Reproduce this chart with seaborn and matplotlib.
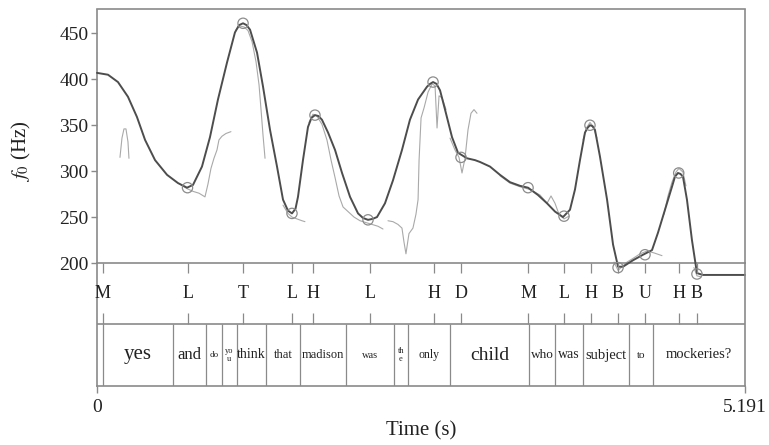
import matplotlib
matplotlib.use("Agg")
import matplotlib.pyplot as plt
import seaborn as sns

# Courbe stylisée (temps en s, f0 en Hz)
curve_t = [0.000, 0.088, 0.168, 0.248, 0.320, 0.385, 0.465, 0.561, 0.649, 0.721,
           0.769, 0.841, 0.905, 0.969, 1.041, 1.105, 1.138, 1.170, 1.198, 1.226,
           1.282, 1.330, 1.386, 1.442, 1.490, 1.530, 1.562, 1.590, 1.610, 1.650,
           1.690, 1.718, 1.746, 1.774, 1.802, 1.851, 1.907, 1.963, 2.027, 2.091,
           2.131, 2.171, 2.207, 2.243, 2.307, 2.371, 2.443, 2.507, 2.572, 2.644,
           2.668, 2.692, 2.720, 2.748, 2.788, 2.844, 2.892, 2.964, 3.028, 3.068,
           3.148, 3.228, 3.308, 3.389, 3.453, 3.533, 3.605, 3.669, 3.733, 3.789,
           3.829, 3.869, 3.909, 3.929, 3.949, 3.969, 3.989, 4.029, 4.086, 4.134,
           4.174, 4.214, 4.294, 4.374, 4.446, 4.494, 4.550, 4.606, 4.630, 4.654,
           4.674, 4.694, 4.726, 4.766, 4.806, 4.854, 5.191]
curve_hz = [407, 405, 397, 381, 359, 334, 312, 296, 287, 282,
            285, 305, 337, 378, 418, 451, 459, 461, 459, 454,
            429, 392, 345, 305, 269, 257, 254, 259, 272, 312,
            348, 358, 361, 360, 356, 342, 323, 298, 272, 254,
            249, 247, 248, 250, 265, 290, 323, 356, 378, 392,
            395, 397, 395, 388, 367, 337, 320, 314, 312, 310,
            305, 296, 288, 284, 282, 274, 265, 256, 250, 258,
            280, 312, 342, 347, 350, 349, 345, 316, 269, 220,
            196, 196, 203, 209, 214, 233, 258, 283, 294, 298,
            297, 294, 269, 225, 189, 187, 187]

# f0 mesurée (segments voisés)
raw_t = [
    [0.184, 0.200, 0.216, 0.232, 0.248, 0.256],
    [0.673, 0.721, 0.769, 0.817, 0.865, 0.889, 0.913, 0.937, 0.961, 0.977, 1.001, 1.033, 1.073],
    [1.114, 1.146, 1.178, 1.210, 1.242, 1.274, 1.298, 1.314, 1.330, 1.346],
    [1.490, 1.530, 1.562, 1.602, 1.642, 1.666],
    [1.698, 1.730, 1.762, 1.802, 1.842, 1.875, 1.907, 1.939, 1.971, 2.011, 2.059, 2.107, 2.155, 2.203, 2.251, 2.291],
    [2.331, 2.371, 2.411, 2.443, 2.459, 2.475, 2.499, 2.531, 2.555, 2.572, 2.580, 2.596, 2.620, 2.652, 2.684, 2.708, 2.724, 2.740, 2.764, 2.796],
    [2.828, 2.868, 2.900, 2.924, 2.948, 2.972, 2.996, 3.020, 3.044],
    [3.228, 3.308, 3.389, 3.469, 3.549, 3.605, 3.637, 3.669, 3.701, 3.741, 3.781],
    [3.893, 3.925, 3.949, 3.973, 4.005],
    [4.142, 4.174, 4.206, 4.246, 4.294, 4.350, 4.406, 4.462, 4.526],
    [4.542, 4.574, 4.606, 4.638, 4.662, 4.694, 4.718],
    [4.782, 4.806, 4.838],
]
raw_hz = [
    [315, 336, 346, 346, 332, 314],
    [285, 281, 278, 276, 272, 286, 303, 314, 323, 334, 338, 341, 343],
    [454, 458, 457, 453, 441, 419, 394, 367, 339, 314],
    [263, 254, 250, 248, 246, 245],
    [353, 362, 360, 351, 334, 312, 293, 273, 261, 256, 250, 246, 244, 242, 240, 237],
    [246, 245, 242, 238, 223, 210, 232, 238, 253, 269, 312, 358, 369, 386, 395, 393, 347, 382, 380, 367],
    [336, 323, 315, 298, 314, 345, 363, 367, 363],
    [295, 287, 283, 280, 274, 265, 273, 265, 253, 248, 251],
    [334, 348, 353, 349, 336],
    [201, 192, 196, 201, 205, 210, 213, 211, 208],
    [253, 273, 288, 299, 303, 299, 284],
    [195, 186, 185],
]

# Tier des tons
tones = ["M", "L", "T", "L", "H", "L", "H", "D", "M", "L", "H", "B", "U", "H", "B"]
tone_t = [0.048, 0.729, 1.170, 1.562, 1.731, 2.187, 2.700, 2.916, 3.453, 3.741,
          3.957, 4.173, 4.390, 4.662, 4.806]
target_t = [0.725, 1.170, 1.562, 1.746, 2.171, 2.692, 2.916, 3.453, 3.741,
            3.949, 4.174, 4.390, 4.660, 4.806]
target_hz = [282, 461, 254, 361, 247, 397, 315, 282, 251, 350, 195, 209, 298, 188]

# Tier des mots
words = ["", "yes", "and", "do", "yo\nu", "think", "that", "madison", "was", "th\ne",
         "only", "child", "who", "was", "subject", "to", "mockeries?"]
word_bounds = [0.0, 0.048, 0.609, 0.873, 1.001, 1.121, 1.354, 1.626, 1.995, 2.379,
               2.491, 2.828, 3.461, 3.669, 3.893, 4.262, 4.454, 5.191]
word_sizes = [8, 15, 12, 6.5, 6, 10, 9, 9, 7.5, 6, 8.5, 14, 9.5, 10, 10.5, 8, 10.5]

yticks = [200, 250, 300, 350, 400, 450]
t_end = 5.191

sns.set_theme(style="white")
plt.rcParams['font.family'] = ['Liberation Serif', 'DejaVu Serif']
plt.rcParams['mathtext.fontset'] = 'stix'

frame_col = "#8a8a8a"
text_col = "#222222"

fig = plt.figure(figsize=(7.69, 4.45), dpi=100)
ax = fig.add_axes([97 / 769, 1 - 263 / 445, 648 / 769, 253.5 / 445])
tier = fig.add_axes([97 / 769, 1 - 386 / 445, 648 / 769, 123 / 445])
tier.set_facecolor("none")

# Pitch
for st, sh in zip(raw_t, raw_hz):
    sns.lineplot(x=st, y=sh, ax=ax, color="#a9a9a9", linewidth=0.8,
                 sort=False, estimator=None, clip_on=False, zorder=2)
sns.lineplot(x=curve_t, y=curve_hz, ax=ax, color="#4d4d4d", linewidth=1.4,
             sort=False, estimator=None, clip_on=False, zorder=3)
sns.scatterplot(x=target_t, y=target_hz, ax=ax, marker="o", s=55,
                facecolor="none", edgecolor="#8c8c8c", linewidth=0.9,
                clip_on=False, zorder=4)

ax.set_xlim(0, t_end)
ax.set_ylim(200, 476)
ax.set_xticks([])
ax.set_yticks(yticks)
ax.tick_params(axis="y", left=True, direction="out", length=4, width=1,
               color=frame_col, labelsize=14, pad=2, labelcolor=text_col)
ax.set_xlabel("")
ax.set_ylabel("$f_0$ (Hz)", fontsize=15, color=text_col)
ax.yaxis.set_label_coords(-0.098, 0.44)
for sp in ax.spines.values():
    sp.set_visible(True)
    sp.set_color(frame_col)
    sp.set_linewidth(1.2)

# Tiers
tier.set_xlim(0, t_end)
tier.set_ylim(0, 123)
tier.set_yticks([])
tier.axhline(62, color=frame_col, lw=1.2)
tier.vlines(word_bounds[1:-1], 0, 62, color=frame_col, lw=0.9)
tier.vlines(tone_t, 113, 123, color=frame_col, lw=0.9)
tier.vlines(tone_t, 62, 73, color=frame_col, lw=0.9)
for t, lab in zip(tone_t, tones):
    tier.text(t, 93, lab, ha="center", va="center", fontsize=13, color=text_col)
for i, w in enumerate(words):
    mid = (word_bounds[i] + word_bounds[i + 1]) / 2
    tier.text(mid, 31, w, ha="center", va="center", fontsize=word_sizes[i],
              color=text_col, linespacing=1.0)

tier.set_xticks([0, t_end])
tier.set_xticklabels(["0", "5.191"])
tier.tick_params(axis="x", bottom=True, direction="out", length=5, width=1,
                 color=frame_col, labelsize=14, pad=4, labelcolor=text_col)
tier.set_xlabel("Time (s)", fontsize=15, color=text_col, labelpad=4)
tier.spines["top"].set_visible(False)
for s in ["left", "right", "bottom"]:
    tier.spines[s].set_visible(True)
    tier.spines[s].set_color(frame_col)
    tier.spines[s].set_linewidth(1.2)

fig.savefig("out.png", dpi=100)
